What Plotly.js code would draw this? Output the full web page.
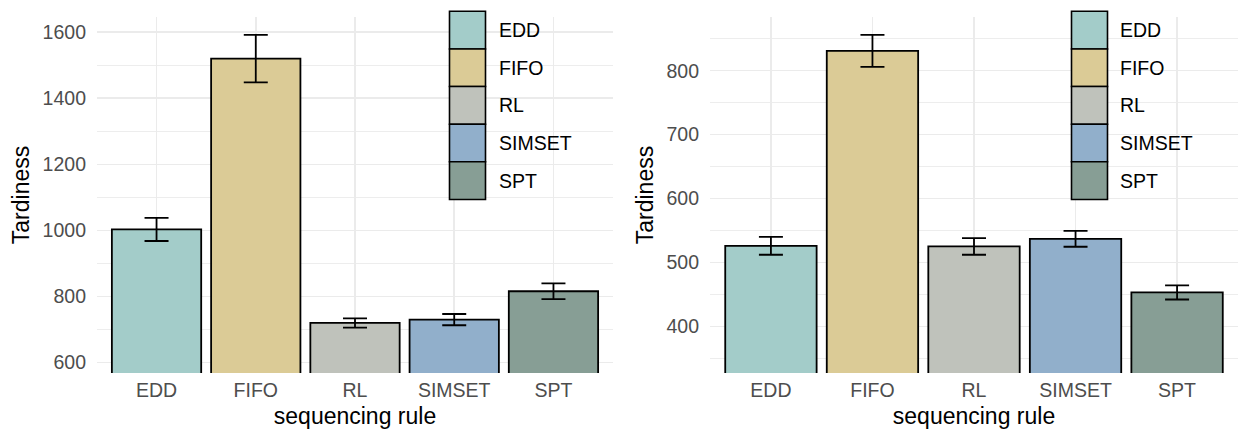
<!DOCTYPE html>
<html>
<head>
<meta charset="utf-8">
<script src="https://cdn.plot.ly/plotly-3.0.1.min.js"></script>
<style>html,body{margin:0;padding:0;background:#fff;}#chart{width:1238px;height:430px;}</style>
</head>
<body>
<div id="chart"></div>
<script>
// ---- data ----
const categories = ["EDD", "FIFO", "RL", "SIMSET", "SPT"];
const colors = ["#a3ccc9", "#dbcb96", "#bfc2bb", "#91afcb", "#879e95"];
const leftMeans = [1003, 1520, 720, 730, 816];
const leftErrors = [35, 72, 14, 17, 24];
const rightMeans = [526, 831, 525, 537, 453];
const rightErrors = [14, 25, 13, 12.5, 11];
const leftTicks = [600, 800, 1000, 1200, 1400, 1600];
const rightTicks = [400, 500, 600, 700, 800];

const FONT = "Liberation Sans, Arial, sans-serif";

function barTrace(means, errs, xa, ya) {
  return {
    type: "bar", x: categories, y: means, xaxis: xa, yaxis: ya,
    marker: { color: colors, line: { color: "#000", width: 1.8 } },
    error_y: { type: "data", array: errs, visible: true, color: "#000", thickness: 1.8, width: 12 },
    showlegend: false, hoverinfo: "x+y"
  };
}

const data = [
  barTrace(leftMeans, leftErrors, "x", "y"),
  barTrace(rightMeans, rightErrors, "x2", "y2")
];

const gridColor = "#ebebeb";
function xAxis(domain, anchor) {
  return {
    domain: domain, anchor: anchor, type: "category", range: [-0.6, 4.6],
    showgrid: true, gridcolor: gridColor, gridwidth: 1.6, zeroline: false, showline: false,
    ticks: "", ticklabelstandoff: 3,
    tickfont: { family: FONT, size: 19.5, color: "#4d4d4d" },
    title: { text: "sequencing rule", font: { family: FONT, size: 23, color: "#000" }, standoff: 8 }
  };
}
function yAxis(domain, anchor, range, ticks, minorD) {
  return {
    domain: domain, anchor: anchor, range: range, tickvals: ticks, ticktext: ticks.map(String),
    showgrid: true, gridcolor: gridColor, gridwidth: 1.6, zeroline: false, showline: false,
    ticks: "", ticklabelstandoff: 10,
    minor: { dtick: minorD, tick0: 0, showgrid: true, gridcolor: gridColor, gridwidth: 0.9, ticks: "" },
    tickfont: { family: FONT, size: 19.5, color: "#4d4d4d" },
    title: { text: "Tardiness", font: { family: FONT, size: 23, color: "#000" }, standoff: 6 }
  };
}

const W = 1238, H = 430;
const ML = 97, MT = 17, MB = 430 - 372.7;
const PW = W - ML;
const leftDom = [0, (613 - ML) / PW];
const rightDom = [(710 - ML) / PW, 1];

// legends (built from categories and colors)
const shapes = [], annotations = [];
function addLegend(x0px, x1px, textX) {
  const top = 11.3, keyH = 37.6;
  categories.forEach((c, i) => {
    const y0 = top + i * keyH, y1 = y0 + keyH;
    shapes.push({
      type: "rect", xref: "paper", yref: "paper", layer: "above",
      x0: (x0px - ML) / PW, x1: (x1px - ML) / PW,
      y0: 1 - (y1 - MT) / (H - MT - MB), y1: 1 - (y0 - MT) / (H - MT - MB),
      fillcolor: colors[i], line: { color: "#000", width: 1.6 }
    });
    annotations.push({
      xref: "paper", yref: "paper", showarrow: false, xanchor: "left", yanchor: "middle",
      x: (textX - ML) / PW, y: 1 - ((y0 + y1) / 2 - MT) / (H - MT - MB),
      text: c, font: { family: FONT, size: 19.5, color: "#000" }
    });
  });
}
addLegend(449.5, 485.5, 496.5);
addLegend(1071.5, 1107.5, 1118);

const layout = {
  width: W, height: H,
  margin: { l: ML, r: 0, t: MT, b: MB, pad: 0 },
  paper_bgcolor: "#fff", plot_bgcolor: "#fff",
  font: { family: FONT },
  bargap: 0.1,
  xaxis: xAxis(leftDom, "y"),
  yaxis: yAxis([0, 1], "x", [568.5, 1646], leftTicks, 100),
  xaxis2: xAxis(rightDom, "y2"),
  yaxis2: yAxis([0, 1], "x2", [327, 884], rightTicks, 50),
  shapes: shapes, annotations: annotations
};

Plotly.newPlot("chart", data, layout, { staticPlot: true, displayModeBar: false });
</script>
</body>
</html>
